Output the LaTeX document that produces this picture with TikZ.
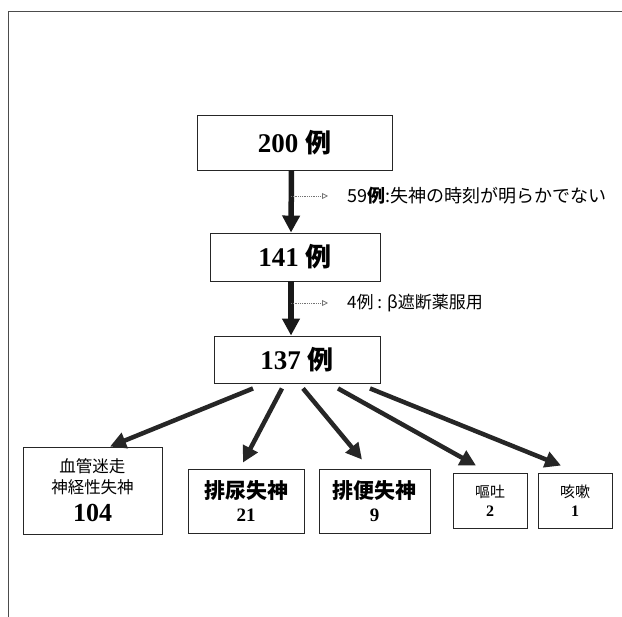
\documentclass[tikz,border=0pt]{standalone}
\usepackage{fontspec}
\setmainfont{Liberation Serif}
\newfontfamily\jp{Noto Sans CJK JP}
\usetikzlibrary{arrows.meta}
\tikzset{
  box/.style={draw=black!85, line width=0.9pt, rectangle, inner sep=0pt, align=center},
  bigarrow/.style={draw=black!90, line width=5.5pt, -{Triangle[length=17pt,width=17pt]}},
  diagarrow/.style={draw=black!85, line width=4.5pt, -{Triangle[length=16pt,width=16pt]}},
  smallarrow/.style={draw=black!55, line width=0.8pt, densely dotted, -{Triangle[open,length=6pt,width=6pt]}},
  lbl/.style={anchor=west, inner sep=0pt},
}
\newcommand{\numb}[2]{{\bfseries\fontsize{#1}{#1}\selectfont #2}}
\newcommand{\jpt}[2]{{\jp\fontsize{#1}{#1}\selectfont #2}}
\begin{document}
\begin{tikzpicture}[x=1pt,y=-1pt]
\useasboundingbox (0,0) rectangle (622,617);
% outer frame (top and left edges)
\draw[black!70, line width=0.9pt] (8,617) -- (8,11) -- (622,11);
% main boxes
\node[box, minimum width=195pt, minimum height=55pt] (n200) at (294.5,142.5) {\numb{27}{200}\hspace{7pt}\jpt{26}{\bfseries 例}};
\node[box, minimum width=170pt, minimum height=48pt] (n141) at (295,257) {\numb{27}{141}\hspace{7pt}\jpt{26}{\bfseries 例}};
\node[box, minimum width=166pt, minimum height=47pt] (n137) at (297,359.5) {\numb{27}{137}\hspace{7pt}\jpt{26}{\bfseries 例}};
% side labels
\node[lbl] (l1) at (347,196) {\jpt{18}{59{\bfseries 例}:失神の時刻が明らかでない}};
\node[lbl] (l2) at (347,303) {\jpt{17}{4例 : β遮断薬服用}};
% bottom boxes
\node[box, minimum width=139pt, minimum height=87pt] (b104) at (92.5,490.5)
  {\jpt{16.5}{血管迷走}\\[4pt]\jpt{16.5}{神経性失神}\\[9pt]\numb{26}{104}};
\node[box, minimum width=116pt, minimum height=64pt] (b21) at (246,501)
  {\jpt{21}{\bfseries 排尿失神}\\[8pt]\numb{19}{21}};
\node[box, minimum width=111pt, minimum height=64pt] (b9) at (374.5,501)
  {\jpt{21}{\bfseries 排便失神}\\[8pt]\numb{19}{9}};
\node[box, minimum width=74pt, minimum height=55pt] (b2) at (490,500.5)
  {\jpt{15}{嘔吐}\\[7pt]\numb{16}{2}};
\node[box, minimum width=74pt, minimum height=55pt] (b1) at (575,500.5)
  {\jpt{15}{咳嗽}\\[7pt]\numb{16}{1}};
% vertical arrows
\draw[bigarrow] ([xshift=-3pt]n200.south) -- ([xshift=-4pt]n141.north);
\draw[bigarrow] ([xshift=-4pt]n141.south) -- ([xshift=-6pt]n137.north);
% dotted side arrows
\coordinate (m1) at (291,196);
\coordinate (m2) at (291,303);
\draw[smallarrow] (m1) -- ([xshift=-19pt]l1.west);
\draw[smallarrow] (m2) -- ([xshift=-19pt]l2.west);
% diagonal arrows
\draw[diagarrow] ([xshift=-44pt,yshift=-5pt]n137.south) -- ([xshift=17.5pt]b104.north);
\draw[diagarrow] ([xshift=-15pt,yshift=-5pt]n137.south) -- ([xshift=-3pt,yshift=6pt]b21.north);
\draw[diagarrow] ([xshift=6pt,yshift=-5pt]n137.south) -- ([xshift=-12.5pt,yshift=9pt]b9.north);
\draw[diagarrow] ([xshift=41pt,yshift=-5pt]n137.south) -- ([xshift=-14pt,yshift=7pt]b2.north);
\draw[diagarrow] ([xshift=73pt,yshift=-5pt]n137.south) -- ([xshift=-14pt,yshift=7pt]b1.north);
\end{tikzpicture}
\end{document}
